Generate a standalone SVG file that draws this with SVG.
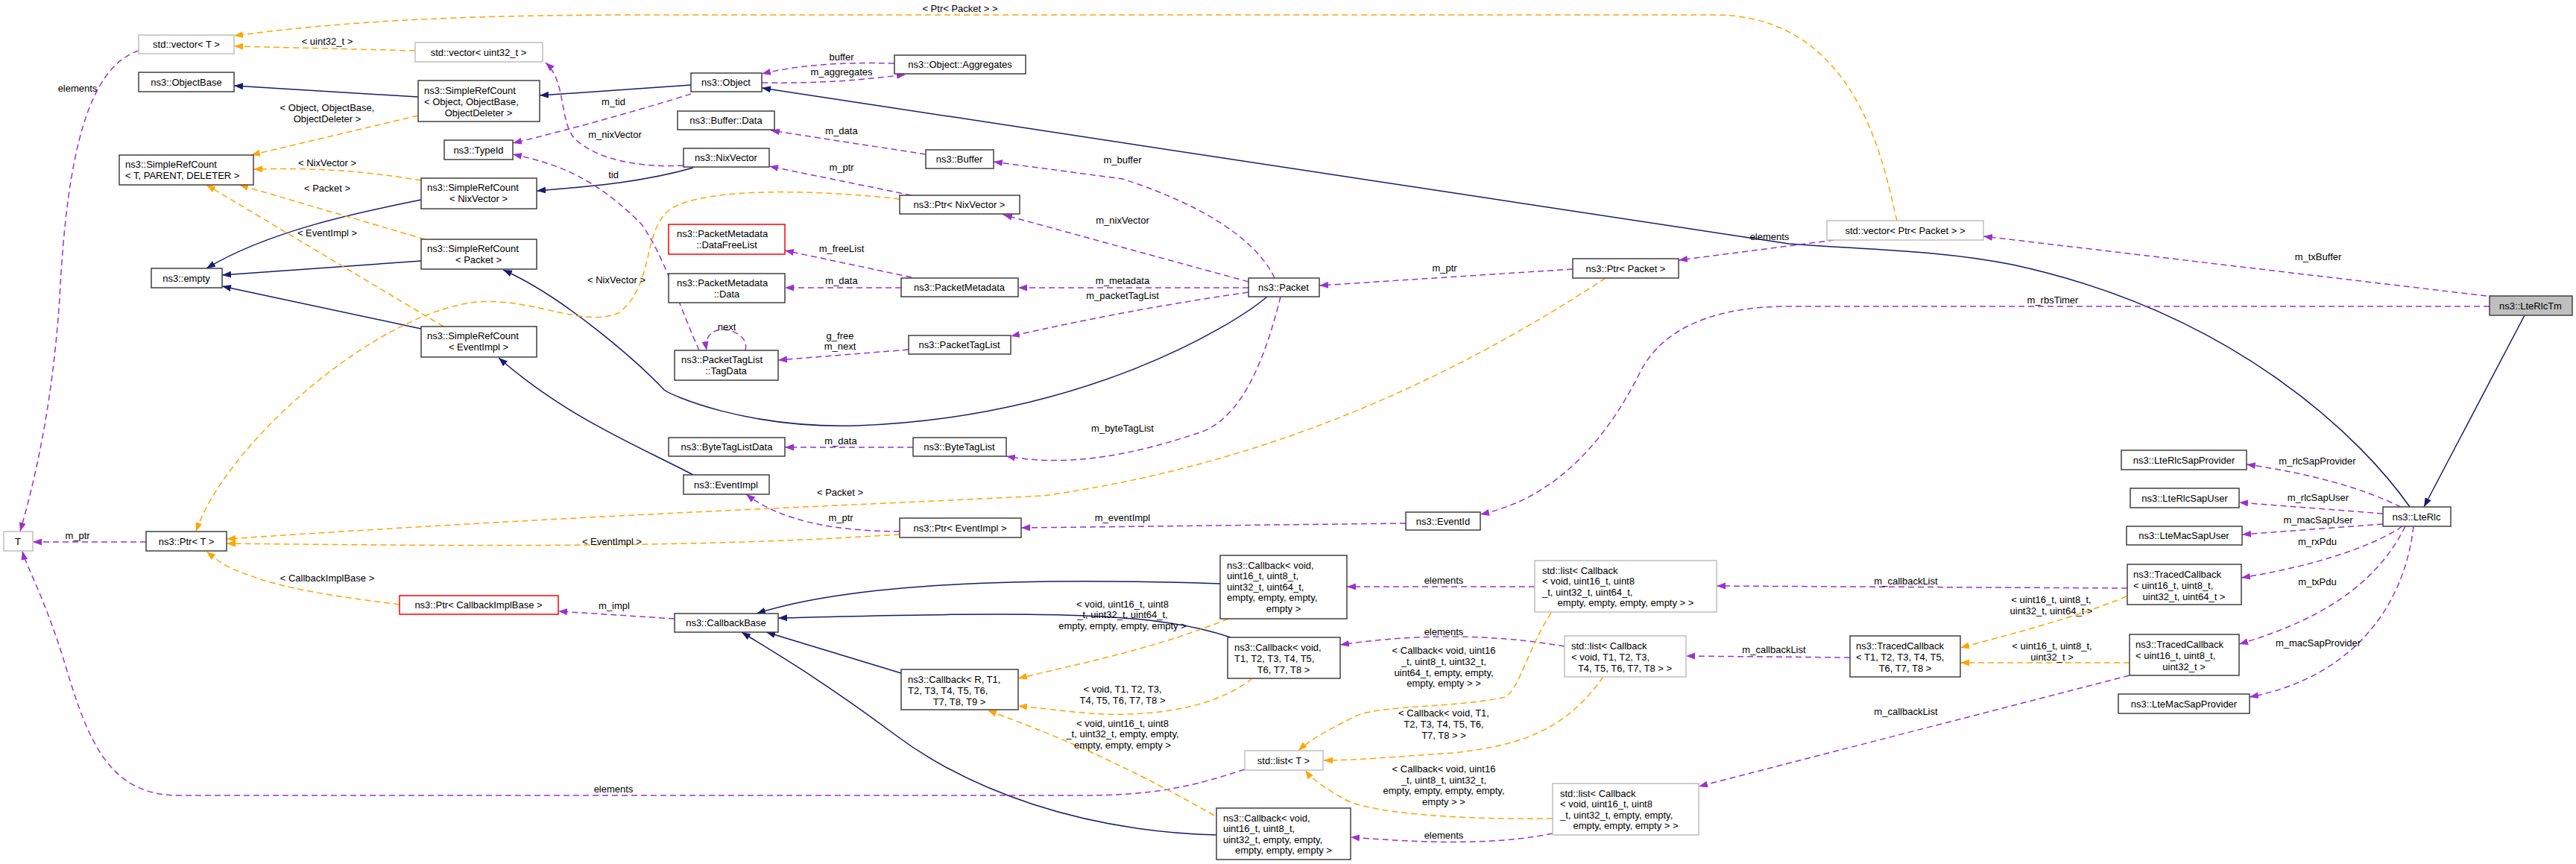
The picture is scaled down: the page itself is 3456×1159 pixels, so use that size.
<svg xmlns="http://www.w3.org/2000/svg" width="3456" height="1159" viewBox="0 0 3456 1159">
<style>
text{font-family:"Liberation Sans",Arial,sans-serif;font-size:13px;fill:#000}
.m{text-anchor:middle}
rect{fill:#fff;stroke:#404040;stroke-width:1.5}
rect.g{stroke:#bfbfbf}
rect.r{stroke:#ff0000}
rect.f{fill:#bfbfbf}
.e path{fill:none;stroke-width:1.5}
.b{stroke:#191970}
.p{stroke:#9a32cd;stroke-dasharray:8,5}
.o{stroke:#ffa500;stroke-dasharray:8,5}
</style>
<defs>
<marker id="ab" markerWidth="13" markerHeight="10" refX="12" refY="4.5" orient="auto" markerUnits="userSpaceOnUse"><path d="M0,0L12,4.5L0,9z" fill="#191970"/></marker>
<marker id="ap" markerWidth="13" markerHeight="10" refX="12" refY="4.5" orient="auto" markerUnits="userSpaceOnUse"><path d="M0,0L12,4.5L0,9z" fill="#9a32cd"/></marker>
<marker id="ao" markerWidth="13" markerHeight="10" refX="12" refY="4.5" orient="auto" markerUnits="userSpaceOnUse"><path d="M0,0L12,4.5L0,9z" fill="#ffa500"/></marker>
</defs>
<rect x="0" y="0" width="3456" height="1159" style="fill:#fff;stroke:none"/>
<g id="edges" class="e">
<g marker-end="url(#ab)">
<path class="b" d="M561,130L314,115"/>
<path class="b" d="M927,114L724,128"/>
<path class="b" d="M565,268C480,285 360,310 277,360"/>
<path class="b" d="M565,350L298,369"/>
<path class="b" d="M565,441L298,384"/>
<path class="b" d="M930,225C860,245 790,250 720,256"/>
<path class="b" d="M1700,398C1650,440 1450,560 1149,571C1000,575 900,530 891,523C860,490 760,400 675,362"/>
<path class="b" d="M930,637C860,600 760,560 669,480"/>
<path class="b" d="M3233,680C3170,590 3000,420 2700,355C2600,335 2500,335 2400,327L1022,118"/>
<path class="b" d="M3387,423L3252,680"/>
<path class="b" d="M1637,783C1400,775 1150,780 1015,823"/>
<path class="b" d="M1651,855C1550,820 1400,820 1044,829"/>
<path class="b" d="M1209,903L1028,848"/>
<path class="b" d="M1632,1120C1450,1115 1300,1060 1200,985C1100,910 1030,870 995,848"/>
</g>
<g marker-end="url(#ap)">
<path class="p" d="M186,68C120,90 90,200 80,400C70,550 45,650 27,713"/>
<path class="p" d="M927,126C850,150 760,175 688,192"/>
<path class="p" d="M917,222C860,225 800,215 770,185C750,160 760,110 732,84"/>
<path class="p" d="M938,470C915,420 890,340 860,300C800,240 750,220 688,207"/>
<path class="p" d="M1022,111C1100,112 1150,108 1215,100"/>
<path class="p" d="M1200,85C1120,83 1070,88 1022,99"/>
<path class="p" d="M1242,207L1034,175"/>
<path class="p" d="M1223,262L1032,223"/>
<path class="p" d="M1710,373C1690,330 1630,280 1506,240L1333,217"/>
<path class="p" d="M1675,378L1346,288"/>
<path class="p" d="M1675,386L1366,386"/>
<path class="p" d="M1675,392C1550,410 1450,430 1356,451"/>
<path class="p" d="M1718,398C1700,470 1670,560 1610,580C1550,600 1450,630 1350,612"/>
<path class="p" d="M1223,372L1053,336"/>
<path class="p" d="M1209,386L1053,386"/>
<path class="p" d="M1219,469L1044,483"/>
<path class="p" d="M1000,470C1005,450 980,442 970,442C955,442 945,452 948,470"/>
<path class="p" d="M1225,600L1053,600"/>
<path class="p" d="M1207,713C1120,712 1050,700 1001,663"/>
<path class="p" d="M2110,361L1770,383"/>
<path class="p" d="M1886,702L1370,708"/>
<path class="p" d="M3340,411L2400,411C2300,411 2230,440 2200,500C2150,600 2080,670 1986,690"/>
<path class="p" d="M3336,397L2661,317"/>
<path class="p" d="M2461,322L2252,349"/>
<path class="p" d="M196,727L44,727"/>
<path class="p" d="M905,830L749,820"/>
<path class="p" d="M1670,1032C1600,1055 1550,1067 1450,1067L240,1067C150,1067 120,1000 90,900C60,800 35,760 30,739"/>
<path class="p" d="M2059,787L1807,787"/>
<path class="p" d="M2099,867C2000,850 1900,850 1798,865"/>
<path class="p" d="M2083,1118C2000,1135 1900,1130 1812,1123"/>
<path class="p" d="M3221,680C3170,655 3100,635 3014,623"/>
<path class="p" d="M3197,689L3004,674"/>
<path class="p" d="M3197,703L3008,717"/>
<path class="p" d="M3223,706C3180,735 3100,760 3007,775"/>
<path class="p" d="M3227,706C3190,780 3120,830 3004,864"/>
<path class="p" d="M3238,706C3225,820 3150,910 3018,935"/>
<path class="p" d="M2854,789L2303,786"/>
<path class="p" d="M2857,906L2279,1055"/>
<path class="p" d="M2482,882L2262,880"/>
</g>
<g marker-end="url(#ao)">
<path class="o" d="M557,68L314,62"/>
<path class="o" d="M2545,296C2530,240 2500,20 2300,20L860,20C600,20 450,30 314,48"/>
<path class="o" d="M561,155L337,208"/>
<path class="o" d="M565,242C480,228 420,225 340,227"/>
<path class="o" d="M570,321L321,248"/>
<path class="o" d="M595,438L277,248"/>
<path class="o" d="M1207,267C1100,255 950,250 900,280C860,310 880,380 830,420C780,440 720,400 640,405C500,420 300,600 263,713"/>
<path class="o" d="M1207,717C1000,730 800,735 304,729"/>
<path class="o" d="M2154,373C1900,540 1650,630 1400,665C1100,680 800,690 304,723"/>
<path class="o" d="M536,811C450,800 380,790 330,770C300,760 290,750 277,740"/>
<path class="o" d="M1648,830C1550,870 1450,890 1366,910"/>
<path class="o" d="M1680,910C1630,950 1550,960 1480,958C1430,955 1400,950 1366,947"/>
<path class="o" d="M1629,1094C1500,1020 1400,980 1325,953"/>
<path class="o" d="M2081,822C2050,870 2040,920 2020,935C1950,950 1860,945 1820,960C1790,975 1760,990 1742,1007"/>
<path class="o" d="M2151,908C2100,980 2040,1000 1950,1010C1870,1015 1820,1020 1776,1020"/>
<path class="o" d="M2083,1098C1950,1100 1830,1090 1800,1070C1775,1055 1760,1045 1751,1033"/>
<path class="o" d="M2853,800C2780,830 2700,850 2630,869"/>
<path class="o" d="M2857,889L2630,889"/>
</g>
<g class="m">
<text x="1288" y="16">&lt; Ptr&lt; Packet &gt; &gt;</text>
<text x="439" y="60">&lt; uint32_t &gt;</text>
<text x="104" y="123">elements</text>
<text x="439" y="149">&lt; Object, ObjectBase,</text>
<text x="439" y="164">ObjectDeleter &gt;</text>
<text x="439" y="223">&lt; NixVector &gt;</text>
<text x="439" y="257">&lt; Packet &gt;</text>
<text x="439" y="317">&lt; EventImpl &gt;</text>
<text x="823" y="141">m_tid</text>
<text x="825" y="185">m_nixVector</text>
<text x="823" y="239">tid</text>
<text x="827" y="380">&lt; NixVector &gt;</text>
<text x="104" y="723">m_ptr</text>
<text x="821" y="731">&lt; EventImpl &gt;</text>
<text x="439" y="780">&lt; CallbackImplBase &gt;</text>
<text x="824" y="817">m_impl</text>
<text x="823" y="1063">elements</text>
<text x="1129" y="81">buffer</text>
<text x="1129" y="101">m_aggregates</text>
<text x="1129" y="180">m_data</text>
<text x="1129" y="229">m_ptr</text>
<text x="1506" y="219">m_buffer</text>
<text x="1506" y="300">m_nixVector</text>
<text x="1129" y="338">m_freeList</text>
<text x="1129" y="381">m_data</text>
<text x="1506" y="381">m_metadata</text>
<text x="1506" y="401">m_packetTagList</text>
<text x="975" y="443">next</text>
<text x="1127" y="455">g_free</text>
<text x="1127" y="469">m_next</text>
<text x="1128" y="596">m_data</text>
<text x="1506" y="579">m_byteTagList</text>
<text x="1127" y="665">&lt; Packet &gt;</text>
<text x="1128" y="699">m_ptr</text>
<text x="1506" y="699">m_eventImpl</text>
<text x="1938" y="364">m_ptr</text>
<text x="2374" y="322">elements</text>
<text x="3110" y="349">m_txBuffer</text>
<text x="2754" y="407">m_rbsTimer</text>
<text x="1506" y="815">&lt; void, uint16_t, uint8</text>
<text x="1506" y="829">_t, uint32_t, uint64_t,</text>
<text x="1506" y="844">empty, empty, empty, empty &gt;</text>
<text x="1506" y="929">&lt; void, T1, T2, T3,</text>
<text x="1506" y="944">T4, T5, T6, T7, T8 &gt;</text>
<text x="1506" y="975">&lt; void, uint16_t, uint8</text>
<text x="1506" y="989">_t, uint32_t, empty, empty,</text>
<text x="1506" y="1004">empty, empty, empty &gt;</text>
<text x="1937" y="783">elements</text>
<text x="1937" y="852">elements</text>
<text x="1937" y="877">&lt; Callback&lt; void, uint16</text>
<text x="1937" y="892">_t, uint8_t, uint32_t,</text>
<text x="1937" y="907">uint64_t, empty, empty,</text>
<text x="1937" y="921">empty, empty &gt; &gt;</text>
<text x="1937" y="961">&lt; Callback&lt; void, T1,</text>
<text x="1937" y="976">T2, T3, T4, T5, T6,</text>
<text x="1937" y="991">T7, T8 &gt; &gt;</text>
<text x="1937" y="1036">&lt; Callback&lt; void, uint16</text>
<text x="1937" y="1051">_t, uint8_t, uint32_t,</text>
<text x="1937" y="1065">empty, empty, empty, empty,</text>
<text x="1937" y="1080">empty &gt; &gt;</text>
<text x="1937" y="1125">elements</text>
<text x="2557" y="784">m_callbackList</text>
<text x="2752" y="809">&lt; uint16_t, uint8_t,</text>
<text x="2752" y="824">uint32_t, uint64_t &gt;</text>
<text x="2753" y="871">&lt; uint16_t, uint8_t,</text>
<text x="2753" y="886">uint32_t &gt;</text>
<text x="2557" y="959">m_callbackList</text>
<text x="2380" y="876">m_callbackList</text>
<text x="3109" y="623">m_rlcSapProvider</text>
<text x="3110" y="672">m_rlcSapUser</text>
<text x="3110" y="702">m_macSapUser</text>
<text x="3109" y="731">m_rxPdu</text>
<text x="3109" y="785">m_txPdu</text>
<text x="3110" y="867">m_macSapProvider</text>
</g>
</g>
<g id="vecT"><rect class="g" x="186" y="47" width="128" height="25"/><text class="m" x="250" y="64">std::vector&lt; T &gt;</text></g>
<g id="vecU32"><rect class="g" x="557" y="57" width="171" height="26"/><text class="m" x="642" y="75">std::vector&lt; uint32_t &gt;</text></g>
<g id="ObjectBase"><rect x="186" y="97" width="128" height="26"/><text class="m" x="250" y="115">ns3::ObjectBase</text></g>
<g id="SRC_Obj"><rect x="561" y="108" width="163" height="55"/><text x="569" y="126">ns3::SimpleRefCount</text><text x="569" y="141">&lt; Object, ObjectBase,</text><text class="m" x="642" y="156">ObjectDeleter &gt;</text></g>
<g id="SRC_T"><rect x="160" y="208" width="180" height="40"/><text x="168" y="225">ns3::SimpleRefCount</text><text x="168" y="240">&lt; T, PARENT, DELETER &gt;</text></g>
<g id="TypeId"><rect x="596" y="188" width="92" height="26"/><text class="m" x="642" y="206">ns3::TypeId</text></g>
<g id="SRC_Nix"><rect x="565" y="239" width="155" height="41"/><text x="573" y="256">ns3::SimpleRefCount</text><text class="m" x="642" y="271">&lt; NixVector &gt;</text></g>
<g id="SRC_Packet"><rect x="565" y="321" width="155" height="40"/><text x="573" y="338">ns3::SimpleRefCount</text><text class="m" x="642" y="353">&lt; Packet &gt;</text></g>
<g id="empty"><rect x="203" y="360" width="95" height="26"/><text class="m" x="250" y="378">ns3::empty</text></g>
<g id="SRC_Event"><rect x="565" y="438" width="155" height="41"/><text x="573" y="455">ns3::SimpleRefCount</text><text class="m" x="642" y="470">&lt; EventImpl &gt;</text></g>
<g id="T"><rect class="g" x="5" y="713" width="39" height="26"/><text class="m" x="24" y="731">T</text></g>
<g id="PtrT"><rect x="196" y="713" width="108" height="26"/><text class="m" x="250" y="731">ns3::Ptr&lt; T &gt;</text></g>
<g id="PtrCIB"><rect class="r" x="536" y="799" width="213" height="25"/><text class="m" x="642" y="816">ns3::Ptr&lt; CallbackImplBase &gt;</text></g>
<g id="CallbackBase"><rect x="905" y="823" width="139" height="25"/><text class="m" x="974" y="840">ns3::CallbackBase</text></g>
<g id="Object"><rect x="927" y="98" width="95" height="25"/><text class="m" x="974" y="115">ns3::Object</text></g>
<g id="Aggregates"><rect x="1200" y="74" width="176" height="25"/><text class="m" x="1288" y="91">ns3::Object::Aggregates</text></g>
<g id="BufferData"><rect x="909" y="149" width="130" height="25"/><text class="m" x="974" y="166">ns3::Buffer::Data</text></g>
<g id="NixVector"><rect x="917" y="199" width="115" height="25"/><text class="m" x="974" y="216">ns3::NixVector</text></g>
<g id="Buffer"><rect x="1242" y="201" width="91" height="25"/><text class="m" x="1287" y="218">ns3::Buffer</text></g>
<g id="PtrNix"><rect x="1207" y="262" width="161" height="25"/><text class="m" x="1287" y="279">ns3::Ptr&lt; NixVector &gt;</text></g>
<g id="DFL"><rect class="r" x="897" y="301" width="156" height="40"/><text x="908" y="318">ns3::PacketMetadata</text><text class="m" x="975" y="333">::DataFreeList</text></g>
<g id="PMData"><rect x="897" y="367" width="156" height="39"/><text x="908" y="384">ns3::PacketMetadata</text><text class="m" x="975" y="399">::Data</text></g>
<g id="PM"><rect x="1209" y="373" width="157" height="25"/><text class="m" x="1287" y="390">ns3::PacketMetadata</text></g>
<g id="TagData"><rect x="905" y="470" width="139" height="40"/><text x="914" y="487">ns3::PacketTagList</text><text class="m" x="974" y="502">::TagData</text></g>
<g id="PTL"><rect x="1219" y="450" width="137" height="25"/><text class="m" x="1287" y="467">ns3::PacketTagList</text></g>
<g id="BTLD"><rect x="897" y="587" width="156" height="25"/><text class="m" x="975" y="604">ns3::ByteTagListData</text></g>
<g id="BTL"><rect x="1225" y="587" width="125" height="25"/><text class="m" x="1287" y="604">ns3::ByteTagList</text></g>
<g id="EventImpl"><rect x="917" y="637" width="115" height="26"/><text class="m" x="974" y="655">ns3::EventImpl</text></g>
<g id="PtrEvent"><rect x="1207" y="695" width="163" height="26"/><text class="m" x="1288" y="713">ns3::Ptr&lt; EventImpl &gt;</text></g>
<g id="Packet"><rect x="1675" y="373" width="95" height="25"/><text class="m" x="1722" y="390">ns3::Packet</text></g>
<g id="PtrPacket"><rect x="2110" y="347" width="142" height="26"/><text class="m" x="2181" y="365">ns3::Ptr&lt; Packet &gt;</text></g>
<g id="vecPtrPacket"><rect class="g" x="2451" y="296" width="210" height="26"/><text class="m" x="2556" y="314">std::vector&lt; Ptr&lt; Packet &gt; &gt;</text></g>
<g id="EventId"><rect x="1886" y="687" width="100" height="24"/><text class="m" x="1936" y="704">ns3::EventId</text></g>
<g id="LteRlcTm"><rect class="f" x="3340" y="397" width="111" height="26"/><text class="m" x="3395" y="415">ns3::LteRlcTm</text></g>
<g id="LteRlc"><rect x="3197" y="680" width="91" height="26"/><text class="m" x="3242" y="698">ns3::LteRlc</text></g>
<g id="LteRlcSapProvider"><rect x="2846" y="604" width="168" height="26"/><text class="m" x="2930" y="622">ns3::LteRlcSapProvider</text></g>
<g id="LteRlcSapUser"><rect x="2858" y="655" width="146" height="26"/><text class="m" x="2931" y="673">ns3::LteRlcSapUser</text></g>
<g id="LteMacSapUser"><rect x="2853" y="706" width="155" height="25"/><text class="m" x="2930" y="723">ns3::LteMacSapUser</text></g>
<g id="TC64"><rect x="2854" y="757" width="153" height="54"/><text x="2862" y="775">ns3::TracedCallback</text><text x="2862" y="790">&lt; uint16_t, uint8_t,</text><text class="m" x="2930" y="805">uint32_t, uint64_t &gt;</text></g>
<g id="TC32"><rect x="2857" y="851" width="147" height="55"/><text x="2865" y="869">ns3::TracedCallback</text><text x="2865" y="884">&lt; uint16_t, uint8_t,</text><text class="m" x="2930" y="899">uint32_t &gt;</text></g>
<g id="LteMacSapProvider"><rect x="2842" y="931" width="176" height="26"/><text class="m" x="2930" y="949">ns3::LteMacSapProvider</text></g>
<g id="TCT"><rect x="2482" y="853" width="148" height="55"/><text x="2490" y="871">ns3::TracedCallback</text><text x="2490" y="886">&lt; T1, T2, T3, T4, T5,</text><text class="m" x="2556" y="901">T6, T7, T8 &gt;</text></g>
<g id="list64"><rect class="g" x="2059" y="752" width="244" height="69"/><text x="2069" y="770">std::list&lt; Callback</text><text x="2069" y="784">&lt; void, uint16_t, uint8</text><text x="2069" y="799">_t, uint32_t, uint64_t,</text><text class="m" x="2181" y="813">empty, empty, empty, empty &gt; &gt;</text></g>
<g id="listT8"><rect class="g" x="2099" y="853" width="163" height="55"/><text x="2108" y="871">std::list&lt; Callback</text><text x="2108" y="886">&lt; void, T1, T2, T3,</text><text class="m" x="2180" y="901">T4, T5, T6, T7, T8 &gt; &gt;</text></g>
<g id="listT"><rect class="g" x="1670" y="1007" width="105" height="26"/><text class="m" x="1722" y="1025">std::list&lt; T &gt;</text></g>
<g id="list32"><rect class="g" x="2083" y="1051" width="196" height="69"/><text x="2093" y="1069">std::list&lt; Callback</text><text x="2093" y="1083">&lt; void, uint16_t, uint8</text><text x="2093" y="1098">_t, uint32_t, empty, empty,</text><text class="m" x="2181" y="1112">empty, empty, empty &gt; &gt;</text></g>
<g id="CB64"><rect x="1637" y="745" width="170" height="85"/><text x="1646" y="763">ns3::Callback&lt; void,</text><text x="1646" y="777">uint16_t, uint8_t,</text><text x="1646" y="792">uint32_t, uint64_t,</text><text x="1646" y="806">empty, empty, empty,</text><text class="m" x="1722" y="821">empty &gt;</text></g>
<g id="CB_T8"><rect x="1647" y="855" width="151" height="55"/><text x="1656" y="873">ns3::Callback&lt; void,</text><text x="1656" y="888">T1, T2, T3, T4, T5,</text><text class="m" x="1722" y="903">T6, T7, T8 &gt;</text></g>
<g id="CB32"><rect x="1632" y="1084" width="180" height="69"/><text x="1641" y="1102">ns3::Callback&lt; void,</text><text x="1641" y="1116">uint16_t, uint8_t,</text><text x="1641" y="1131">uint32_t, empty, empty,</text><text class="m" x="1722" y="1145">empty, empty, empty &gt;</text></g>
<g id="CB_R"><rect x="1209" y="898" width="157" height="54"/><text x="1218" y="916">ns3::Callback&lt; R, T1,</text><text x="1218" y="931">T2, T3, T4, T5, T6,</text><text class="m" x="1287" y="946">T7, T8, T9 &gt;</text></g>
</svg>
